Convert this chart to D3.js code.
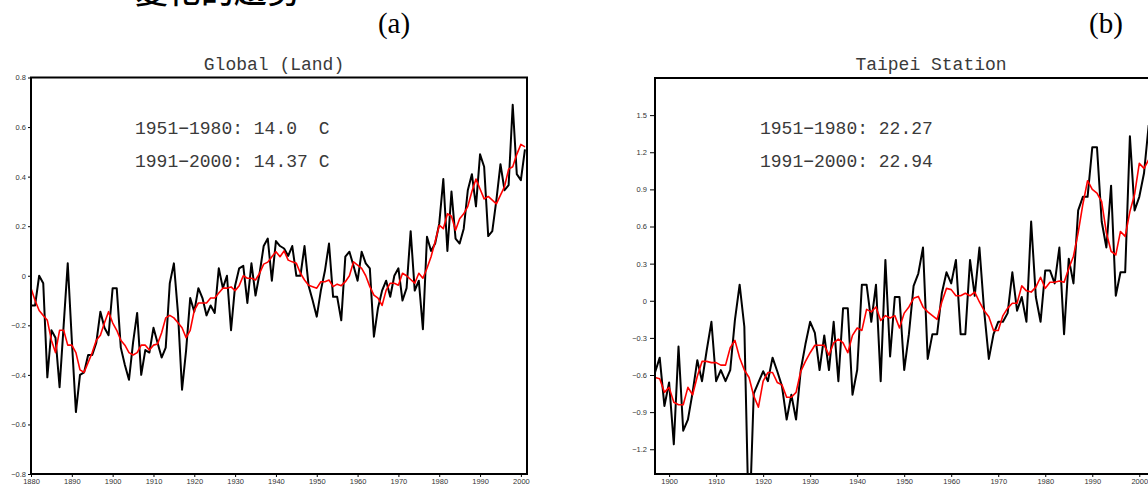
<!DOCTYPE html>
<html><head><meta charset="utf-8">
<script src="https://cdn.jsdelivr.net/npm/d3@7"></script>
<style>body{margin:0;background:#fff;} svg{display:block;}</style>
</head><body><svg id="chart" width="1148" height="486"></svg>
<script>
// ---------------- data ----------------
const globalStartYear = 1880;
const globalAnnual = [
 -0.12,-0.12,0.00,-0.03,-0.41,-0.22,-0.25,-0.45,-0.20,0.05,
 -0.26,-0.55,-0.40,-0.39,-0.32,-0.32,-0.27,-0.145,-0.21,-0.24,
 -0.05,-0.05,-0.29,-0.36,-0.42,-0.27,-0.15,-0.40,-0.30,-0.31,
 -0.21,-0.27,-0.33,-0.29,-0.03,0.05,-0.15,-0.46,-0.30,-0.09,
 -0.145,-0.05,-0.09,-0.16,-0.12,-0.15,0.03,-0.05,0.00,-0.22,
 -0.04,0.03,0.04,-0.11,0.05,-0.08,0.01,0.12,0.15,-0.02,
 0.14,0.12,0.11,0.08,0.12,0.00,0.00,0.12,-0.04,-0.10,
 -0.165,-0.06,0.02,0.13,-0.085,-0.085,-0.18,0.077,0.097,0.04,
 -0.02,0.097,0.05,0.03,-0.246,-0.13,-0.06,-0.02,-0.085,0.00,
 0.03,-0.10,-0.05,0.18,-0.06,-0.02,-0.216,0.157,0.10,0.13,
 0.21,0.39,0.10,0.34,0.15,0.13,0.19,0.345,0.41,0.28,
 0.49,0.44,0.16,0.18,0.305,0.45,0.345,0.366,0.69,0.41,
 0.386,0.51
];
const globalSmooth = [
 -0.05,-0.10,-0.14,-0.16,-0.18,-0.26,-0.31,-0.22,-0.22,-0.28,
 -0.28,-0.31,-0.38,-0.39,-0.35,-0.31,-0.26,-0.24,-0.19,-0.145,
 -0.19,-0.22,-0.26,-0.28,-0.31,-0.32,-0.31,-0.28,-0.28,-0.30,
 -0.28,-0.275,-0.23,-0.17,-0.16,-0.17,-0.19,-0.21,-0.25,-0.22,
 -0.14,-0.11,-0.11,-0.11,-0.09,-0.09,-0.07,-0.05,-0.05,-0.045,
 -0.06,-0.04,0.00,-0.01,-0.01,-0.017,0.01,0.047,0.055,0.077,
 0.097,0.077,0.10,0.063,0.056,0.05,0.01,-0.017,-0.038,-0.044,
 -0.05,-0.024,-0.024,-0.017,-0.044,-0.034,-0.04,-0.024,0.00,0.056,
 0.043,0.03,0.00,-0.044,-0.078,-0.09,-0.12,-0.058,-0.03,-0.03,
 -0.038,0.01,0.00,-0.015,-0.03,0.01,-0.01,0.03,0.077,0.137,
 0.204,0.19,0.25,0.24,0.184,0.23,0.25,0.28,0.34,0.39,
 0.35,0.31,0.32,0.305,0.29,0.325,0.36,0.43,0.44,0.49,
 0.53,0.52
];
const taipeiStartYear = 1897;
const taipeiAnnual = [
 -0.58,-0.46,-0.85,
 -0.66,-1.16,-0.37,-1.05,-0.96,-0.74,-0.48,-0.65,-0.40,-0.17,
 -0.65,-0.56,-0.65,-0.56,-0.155,0.13,-0.21,-1.9,-0.75,-0.66,
 -0.57,-0.65,-0.46,-0.57,-0.69,-0.96,-0.76,-0.96,-0.56,-0.35,
 -0.17,-0.26,-0.56,-0.28,-0.56,-0.17,-0.65,-0.06,-0.06,-0.76,
 -0.56,0.13,0.13,-0.17,0.13,-0.65,0.33,-0.45,0.03,0.03,
 -0.56,-0.27,0.12,0.22,0.43,-0.47,-0.27,-0.27,0.06,0.23,
 0.14,0.33,-0.27,-0.27,0.33,0.04,0.43,-0.08,-0.47,-0.27,
 -0.17,-0.17,-0.10,0.23,-0.08,0.03,-0.17,0.64,0.03,-0.17,
 0.245,0.245,0.14,0.43,-0.27,0.34,0.14,0.73,0.84,0.84,
 1.24,1.24,0.64,0.43,0.93,0.04,0.23,0.23,1.33,0.73,
 0.84,1.03,1.42
];
const taipeiSmooth = [
 -0.62,-0.63,-0.74,
 -0.70,-0.82,-0.84,-0.84,-0.70,-0.76,-0.61,-0.49,-0.49,-0.50,
 -0.50,-0.52,-0.52,-0.38,-0.32,-0.46,-0.56,-0.62,-0.77,-0.86,
 -0.65,-0.58,-0.58,-0.66,-0.68,-0.78,-0.78,-0.74,-0.57,-0.49,
 -0.42,-0.36,-0.36,-0.36,-0.44,-0.34,-0.31,-0.34,-0.42,-0.28,
 -0.22,-0.24,-0.07,-0.09,-0.05,-0.16,-0.12,-0.14,-0.12,-0.22,
 -0.10,-0.05,0.02,0.035,-0.05,-0.09,-0.12,-0.15,-0.01,0.10,
 0.09,0.04,0.04,0.06,0.04,0.07,-0.01,-0.08,-0.13,-0.24,
 -0.24,-0.12,-0.06,-0.02,-0.02,0.12,0.08,0.07,0.11,0.19,
 0.10,0.15,0.15,0.16,0.15,0.26,0.36,0.55,0.78,0.97,
 0.90,0.87,0.80,0.55,0.40,0.37,0.56,0.52,0.72,0.86,
 1.11,1.07,1.14
];
const globalXTicks = [1880,1890,1900,1910,1920,1930,1940,1950,1960,1970,1980,1990,2000];
const taipeiXTicks = [1900,1910,1920,1930,1940,1950,1960,1970,1980,1990,2000];
const globalYTicks = [-0.8,-0.6,-0.4,-0.2,0,0.2,0.4,0.6,0.8];
const taipeiYTicks = [-1.2,-0.9,-0.6,-0.3,0,0.3,0.6,0.9,1.2,1.5];
const globalTitle = "Global (Land)";
const taipeiTitle = "Taipei Station";
const globalNotes = ["1951\u22121980: 14.0  C", "1991\u22122000: 14.37 C"];
const taipeiNotes = ["1951\u22121980: 22.27", "1991\u22122000: 22.94"];
const panelLabels = ["(a)", "(b)"];
const headingText = "變化的趨勢";

// ---------------- drawing ----------------
const svg = d3.select("#chart");
const fmt = d => d === 0 ? "0" : (d < 0 ? "\u2212" : "") + Math.abs(d).toFixed(1);

const panels = [
  {id:"g", start: globalStartYear, annual: globalAnnual, smooth: globalSmooth,
   xDomain:[1880, 2001.5], left:31, right:527, top:77.5, bottom:474,
   yDomain:[-0.8,0.8], xTicks: globalXTicks, yTicks: globalYTicks,
   title: globalTitle, titleX: 274, notes: globalNotes, noteX: 135,
   label: panelLabels[0], labelX: 394, ytick: 3, ypad: 2},
  {id:"t", start: taipeiStartYear, annual: taipeiAnnual, smooth: taipeiSmooth,
   xDomain:[1897, 2014.4], left:655, right:1207, top:78, bottom:474,
   yDomain:[-1.4,1.8], xTicks: taipeiXTicks, yTicks: taipeiYTicks,
   title: taipeiTitle, titleX: 931, notes: taipeiNotes, noteX: 760,
   label: panelLabels[1], labelX: 1106, ytick: 5, ypad: 3}
];

svg.append("text")
  .attr("x", 135).attr("y", 3)
  .attr("font-family", "'Noto Sans CJK TC','Noto Sans CJK SC',sans-serif")
  .attr("font-size", 33).attr("font-weight", 500).attr("fill", "#000")
  .text(headingText);

panels.forEach(p => {
  const x = d3.scaleLinear().domain(p.xDomain).range([p.left, p.right]);
  const y = d3.scaleLinear().domain(p.yDomain).range([p.bottom, p.top]);
  const g = svg.append("g");

  g.append("clipPath").attr("id", "clip-" + p.id)
    .append("rect").attr("x", p.left).attr("y", p.top)
    .attr("width", p.right - p.left).attr("height", p.bottom - p.top);

  // axes
  const ax = g.append("g").attr("transform", `translate(0,${p.bottom})`)
    .call(d3.axisBottom(x).tickValues(p.xTicks).tickSize(3).tickSizeOuter(0).tickPadding(2)
      .tickFormat(d3.format("d")));
  const ay = g.append("g").attr("transform", `translate(${p.left},0)`)
    .call(d3.axisLeft(y).tickValues(p.yTicks).tickSize(p.ytick).tickSizeOuter(0).tickPadding(p.ypad)
      .tickFormat(fmt));
  [ax, ay].forEach(a => {
    a.select(".domain").remove();
    a.selectAll("text").attr("font-family", "'Liberation Sans',Arial,sans-serif")
      .attr("font-size", 7.5).attr("fill", "#333");
    a.selectAll("line").attr("stroke", "#000").attr("stroke-width", 1);
  });

  // series
  const line = d3.line().x((d, i) => x(p.start + i)).y(d => y(d));
  g.append("path").datum(p.annual)
    .attr("clip-path", `url(#clip-${p.id})`)
    .attr("fill", "none").attr("stroke", "#000").attr("stroke-width", 2)
    .attr("stroke-linejoin", "round").attr("d", line);
  g.append("path").datum(p.smooth)
    .attr("clip-path", `url(#clip-${p.id})`)
    .attr("fill", "none").attr("stroke", "#ff0000").attr("stroke-width", 1.6)
    .attr("stroke-linejoin", "round").attr("d", line);

  // frame
  g.append("rect").attr("x", p.left).attr("y", p.top)
    .attr("width", p.right - p.left).attr("height", p.bottom - p.top)
    .attr("fill", "none").attr("stroke", "#000").attr("stroke-width", 2);

  // title
  g.append("text").attr("x", p.titleX).attr("y", 69.5).attr("text-anchor", "middle")
    .attr("font-family", "'Liberation Mono','DejaVu Sans Mono',monospace")
    .attr("font-size", 18).attr("fill", "#3a3a3a").text(p.title);

  // notes
  g.selectAll(".note").data(p.notes).join("text")
    .attr("x", p.noteX).attr("y", (d, i) => 134 + i * 33)
    .attr("font-family", "'Liberation Mono','DejaVu Sans Mono',monospace")
    .attr("font-size", 18).attr("fill", "#3a3a3a")
    .attr("xml:space", "preserve").style("white-space", "pre")
    .text(d => d);

  // panel label
  svg.append("text").attr("x", p.labelX).attr("y", 33).attr("text-anchor", "middle")
    .attr("font-family", "'Liberation Serif','Times New Roman',serif")
    .attr("font-size", 29).attr("fill", "#000").text(p.label);
});
</script></body></html>
